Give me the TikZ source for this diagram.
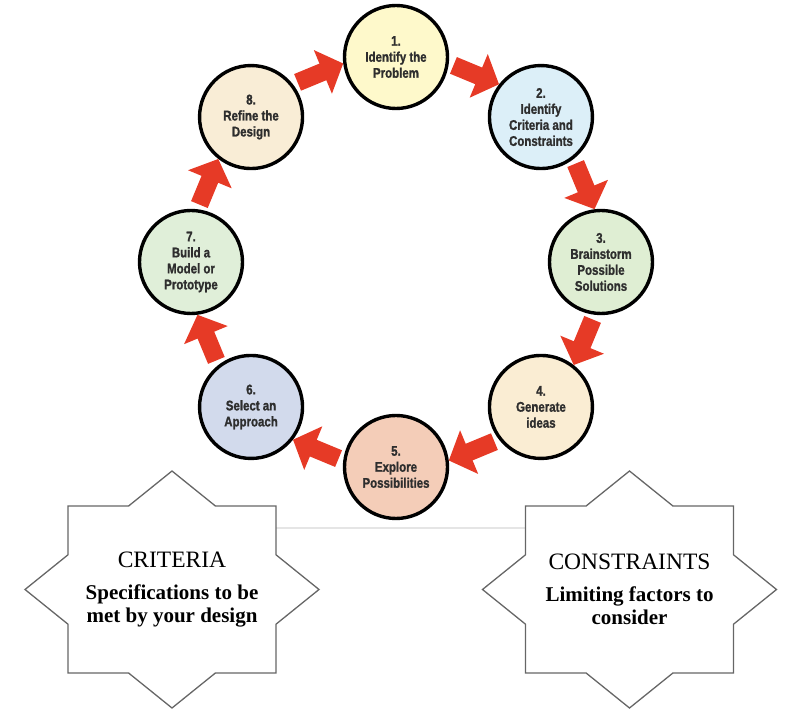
\documentclass[tikz,border=0pt]{standalone}
\usepackage{fontspec}
\setmainfont{Liberation Serif}
\newfontfamily\stepfont[FakeStretch=0.82, BoldFeatures={FakeBold=1.2}]{Liberation Sans}
\usepackage{tikz}
\usetikzlibrary{arrows.meta,calc}
\definecolor{stepred}{RGB}{230,58,38}
\definecolor{fillA}{RGB}{254,249,203}
\definecolor{fillB}{RGB}{220,239,248}
\definecolor{fillC}{RGB}{223,238,211}
\definecolor{fillD}{RGB}{250,237,211}
\definecolor{fillE}{RGB}{244,205,184}
\definecolor{fillF}{RGB}{210,218,236}
\definecolor{fillG}{RGB}{224,239,217}
\definecolor{fillH}{RGB}{249,237,214}

\begin{document}
\begin{tikzpicture}[x=1pt, y=1pt,
  stepnode/.style={draw, line width=3.4pt, circle, minimum size=103pt, inner sep=0pt, align=center,
    text=black!82, font=\stepfont\bfseries\fontsize{14}{16}\selectfont},
  flow/.style={stepred, line width=18pt, -{Triangle[width=46pt,length=22pt]}, shorten <=5pt, shorten >=0pt},
  starbox/.style={minimum width=208pt, minimum height=167pt, inner sep=0pt, align=center,
    font=\fontsize{21}{23}\selectfont},
  starline/.style={draw=black!60, line width=1.3pt},
  rule/.style={draw=black!10, line width=2.5pt}]
  \useasboundingbox (0,0) rectangle (800,712);
  \coordinate (ring) at (396,450);
  % design cycle
  \foreach \i/\txt/\col in {
    1/{1.\\Identify the\\Problem}/fillA,
    2/{2.\\Identify\\Criteria and\\Constraints}/fillB,
    3/{3.\\Brainstorm\\Possible\\Solutions}/fillC,
    4/{4.\\Generate\\ideas}/fillD,
    5/{5.\\Explore\\Possibilities}/fillE,
    6/{6.\\Select an\\Approach}/fillF,
    7/{7.\\Build a\\Model or\\Prototype}/fillG,
    8/{8.\\Refine the\\Design}/fillH}
    \node[stepnode, fill=\col] (c\i) at ([shift={({90-45*(\i-1)}:205)}]ring) {\txt};
  \foreach \i [evaluate=\i as \j using {int(mod(\i,8)+1)},
               evaluate=\i as \a using {int(mod(398-45*\i,360))},
               evaluate=\i as \b using {int(mod(547-45*\i,360))}] in {1,...,8}
    \draw[flow] (c\i.\a) -- (c\j.\b);
  % criteria and constraints
  \node[starbox] (crit) at (172,122.5) {{\fontsize{23.5}{26}\selectfont CRITERIA}\\[9pt]\textbf{Specifications to be}\\\textbf{met by your design}};
  \node[starbox] (cons) at (629.5,122.5) {{\fontsize{23.5}{26}\selectfont CONSTRAINTS}\\[9pt]\textbf{Limiting factors to}\\\textbf{consider}};
  \draw[rule] ($(crit.north east)+(0,-22)$) -- ($(cons.north west)+(0,-22)$);
  \foreach \s in {crit,cons}
    \draw[starline, shift={(\s.center)}] (0,118.5) -- (-43.4,83.5) -- (-104,83.5) -- (-104,34.7)
      -- (-147,0) -- (-104,-34.7) -- (-104,-83.5) -- (-43.4,-83.5) -- (0,-118.5) -- (43.4,-83.5)
      -- (104,-83.5) -- (104,-34.7) -- (147,0) -- (104,34.7) -- (104,83.5) -- (43.4,83.5) -- cycle;
\end{tikzpicture}
\end{document}
